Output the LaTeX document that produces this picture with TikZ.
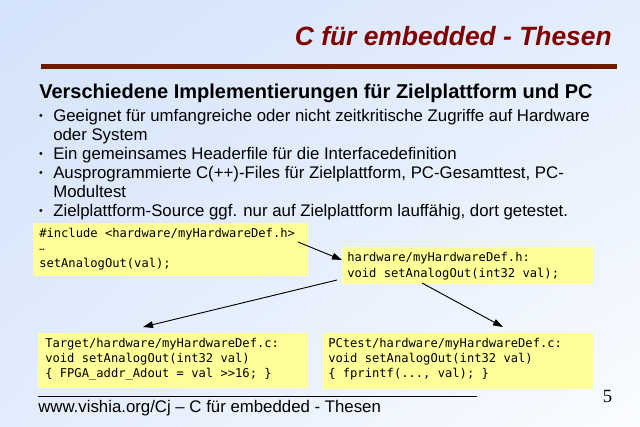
\documentclass[tikz,border=0pt]{standalone}
\usepackage{fontspec}
\setmainfont{Liberation Sans}
\newfontfamily\codefont{DejaVu Sans Mono}
\newfontfamily\numfont{Liberation Serif}
\usetikzlibrary{arrows.meta,shadings}
\definecolor{bgul}{HTML}{D3E3FA}
\definecolor{bgur}{HTML}{E3EDFC}
\definecolor{bgll}{HTML}{E2ECFC}
\definecolor{bglr}{HTML}{FAFCFF}
\definecolor{titlered}{HTML}{800000}
\definecolor{rulebrown}{HTML}{6E1A00}
\definecolor{boxy}{HTML}{FFFF99}
\begin{document}
\begin{tikzpicture}[x=0.75pt,y=-0.75pt,
  txt/.style={inner sep=0pt, anchor=base west},
  code/.style={txt, font=\fontsize{9.1}{11}\codefont, text=black},
  bul/.style={txt, font=\fontsize{12.6}{15}\selectfont},
  dot/.style={inner sep=0pt, anchor=center, font=\fontsize{8}{8}\selectfont},
  box/.style={fill=boxy, draw=none, inner sep=0pt, outer sep=0pt, anchor=north west},
  conn/.style={draw=black, line width=0.7pt, -{Triangle[length=7.5pt,width=5pt]}}]
\useasboundingbox (0,0) rectangle (640,426);
\shade[upper left=bgul, upper right=bgur, lower left=bgll, lower right=bglr] (0,0) rectangle (640,426);

% title
\node[txt, anchor=base east, font=\fontsize{19.8}{24}\bfseries\itshape, text=titlered] (title) at (612,45.7) {C für embedded - Thesen};
\draw[line width=3.8pt, rulebrown] (40.7,66.3) -- (616.7,66.3);

% subtitle
\node[txt, font=\fontsize{15}{18}\bfseries] (sub) at (39,98.3) {Verschiedene Implementierungen für Zielplattform und PC};

% bullets
\node[dot] (d1) at (41,117.3) {•};
\node[bul] (b1a) at (53,121.5) {Geeignet für umfangreiche oder nicht zeitkritische Zugriffe auf Hardware};
\node[bul] (b1b) at (53,140.5) {oder System};
\node[dot] (d2) at (41,155.3) {•};
\node[bul] (b2) at (53,159.5) {Ein gemeinsames Headerfile für die Interfacedefinition};
\node[dot] (d3) at (41,174.3) {•};
\node[bul] (b3a) at (53,178.5) {Ausprogrammierte C(++)-Files für Zielplattform, PC-Gesamttest, PC-};
\node[bul] (b3b) at (53,197.5) {Modultest};
\node[dot] (d4) at (41,212.3) {•};
\node[bul] (b4) at (53,216.5) {Zielplattform-Source ggf. nur auf Zielplattform lauffähig, dort getestet.};

% boxes (sizes in pt = px*0.75)
\node[box, minimum width=206.25pt, minimum height=39.75pt] (main) at (33,223) {};
\node[code] (m1) at (39,237) {\#include <hardware/myHardwareDef.h>};
\node[code, font=\fontsize{6.5}{8}\codefont] (m2) at (39,250) {…};
\node[code] (m3) at (39,267.5) {setAnalogOut(val);};

\node[box, minimum width=188.25pt, minimum height=27.75pt] (hdr) at (342,246.5) {};
\node[code] (h1) at (347,261) {hardware/myHardwareDef.h:};
\node[code] (h2) at (347,277) {void setAnalogOut(int32 val);};

\node[box, minimum width=202.5pt, minimum height=41.25pt] (tgt) at (38,332.5) {};
\node[code] (t1) at (45,347) {Target/hardware/myHardwareDef.c:};
\node[code] (t2) at (45,362) {void setAnalogOut(int32 val)};
\node[code] (t3) at (45,377) {\{ FPGA\_addr\_Adout = val >>16; \}};

\node[box, minimum width=202.5pt, minimum height=42pt] (pc) at (323,332.5) {};
\node[code] (p1) at (328,347) {PCtest/hardware/myHardwareDef.c:};
\node[code] (p2) at (328,362) {void setAnalogOut(int32 val)};
\node[code] (p3) at (328,377) {\{ fprintf(..., val); \}};

% connector end points
\coordinate (a1s) at (298,242);
\coordinate (a1e) at (342,260);
\coordinate (a2s) at (337,280);
\coordinate (a2e) at (143,327);
\coordinate (a3s) at (422,283);
\coordinate (a3e) at (503,327);
\draw[conn] (a1s) -- (a1e);
\draw[conn] (a2s) -- (a2e);
\draw[conn] (a3s) -- (a3e);

% footer
\draw[line width=0.75pt, black] (38,396) -- (477,396);
\node[txt, font=\fontsize{12.6}{15}\selectfont] (foot) at (38,412.5) {www.vishia.org/Cj – C für embedded - Thesen};
\node[txt, font=\fontsize{14}{16}\numfont] (page) at (602.5,402) {5};
\end{tikzpicture}
\end{document}
